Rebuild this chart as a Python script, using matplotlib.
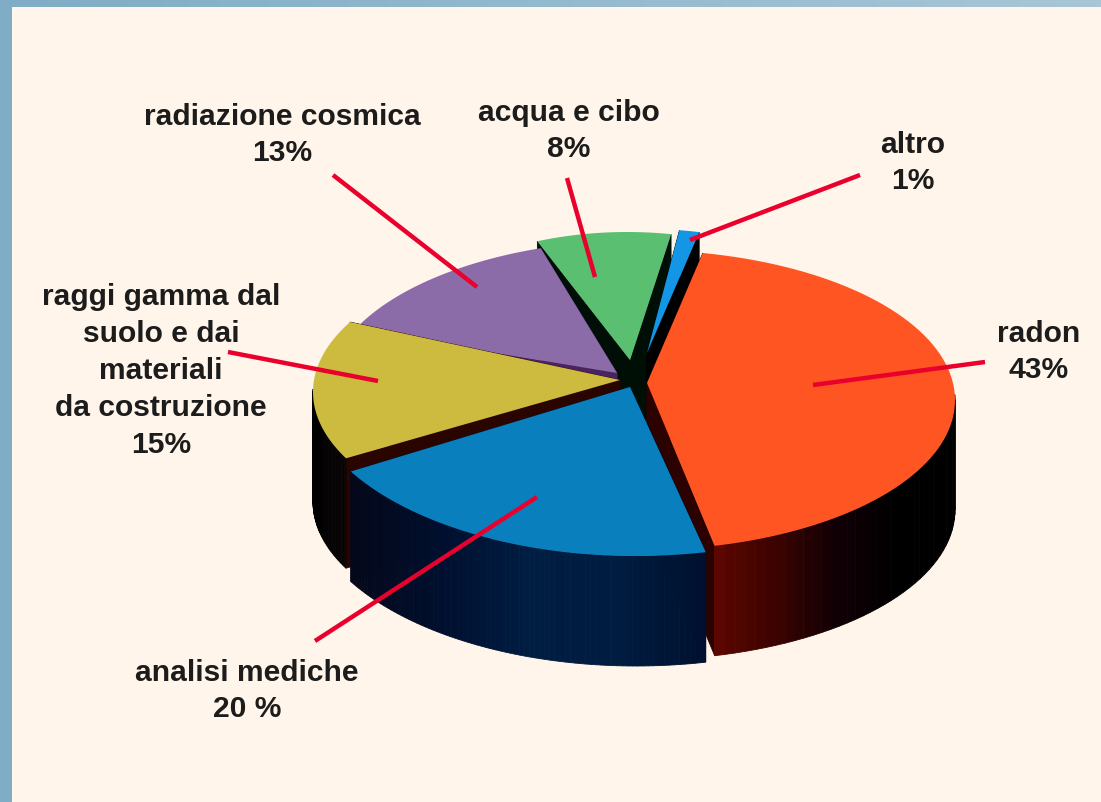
import numpy as np
import matplotlib.pyplot as plt
from matplotlib.colors import LinearSegmentedColormap

plt.rcParams['font.family'] = ['Liberation Sans', 'DejaVu Sans']

# clockwise from the top right
names = ["radon", "analisi mediche", "raggi gamma", "radiazione cosmica", "acqua e cibo", "altro"]
shares = [43, 20, 15, 13, 8, 1]
labels = ["radon\n43%", "analisi mediche\n20 %", "raggi gamma dal\nsuolo e dai\nmateriali\nda costruzione\n15%",
          "radiazione cosmica\n13%", "acqua e cibo\n8%", "altro\n1%"]
label_pos = [(1039, 352), (247, 691), (161, 371), (282, 135), (569, 131), (913, 163)]
lead_lines = [((985, 362), (813, 385)), ((315, 641), (537, 497)), ((228, 352), (378, 381)),
              ((333, 175), (477, 287)), ((567, 178), (595, 277)), ((860, 175), (690, 240))]

top_colors = ["#ff5522", "#0a7fbd", "#cdbb3f", "#8c6ca8", "#5bbf72", "#1496e6"]
side_colors = [["#5c0600", "#3a0300", "#100005", "#000000", "#000000"],
               ["#05081a", "#000f2e", "#001d42", "#001c40", "#00102e"],
               ["#000000", "#0a0508"], ["#000000", "#000000"], ["#000000", "#000000"], ["#000000", "#000000"]]
cut_colors = ["#2c0200", "#00102e", "#2a0500", "#4a2460", "#000f06", "#000000"]

# apex of each slice, and the ellipse its rim follows (the perspective is not a clean ellipse)
apex = [(647, 383), (630, 387), (620, 380), (617, 373), (630, 360), (647, 353)]
rim_cx = [640, 636, 634, 643, 627, 627]
rim_cy = [400, 386, 392, 392, 395, 388]
rim_a = [315, 330, 321, 316, 270, 321]
rim_b = [150, 170, 150, 152, 163, 160]
rot = [1.5, 0, -4, -0.5, 0, 0]
draw_order = [4, 5, 3, 2, 0, 1]

depth = 110
start = 77.0


def rim(t, k):
    t = np.radians(t)
    return rim_cx[k] + rim_a[k] * np.cos(t), rim_cy[k] - rim_b[k] * np.sin(t)


fig = plt.figure(figsize=(11.01, 8.02), dpi=100)
ax = fig.add_axes([0, 0, 1, 1])
ax.axis("off")

# frame and panel
frame = LinearSegmentedColormap.from_list("frame", ["#7fadc5", "#a8c6d6"])
ax.imshow(np.linspace(0, 1, 256)[None, :], cmap=frame, extent=(0, 1101, 802, 0), aspect="auto", zorder=0)
ax.set_xlim(0, 1101)
ax.set_ylim(802, 0)
ax.fill([12, 1101, 1101, 12], [7, 7, 802, 802], color="#fff5eb", lw=0, zorder=1)

# slice angles from the shares
ends = start - np.cumsum(shares) * 3.6
starts = np.r_[start, ends[:-1]]

z = 2
for k in draw_order:
    t0, t1 = starts[k] + rot[k], ends[k] + rot[k]
    ts = np.linspace(t0, t1, 80)
    xs, ys = rim(ts, k)
    px, py = apex[k]

    # cut faces
    for i in (0, -1):
        ax.fill([px, xs[i], xs[i], px], [py, ys[i], ys[i] + depth, py + depth],
                color=cut_colors[k], lw=0.5, zorder=z)
    z += 1

    # outer wall in strips, only the part facing us
    cmap = LinearSegmentedColormap.from_list("wall", side_colors[k])
    for i in range(len(ts) - 1):
        if np.sin(np.radians((ts[i] + ts[i + 1]) / 2)) > 0.02:
            continue
        f = (xs[i] + xs[i + 1]) / 2
        c = cmap(np.clip((f - xs.min()) / max(xs.max() - xs.min(), 1), 0, 1))
        if k == 0:
            c = cmap(np.clip((f - 718) / 235, 0, 1))
        ax.fill([xs[i], xs[i + 1], xs[i + 1], xs[i]],
                [ys[i], ys[i + 1], ys[i + 1] + depth, ys[i] + depth],
                color=c, lw=0.6, zorder=z)
    z += 1

    # top
    ax.fill(np.r_[px, xs], np.r_[py, ys], color=top_colors[k], lw=0, zorder=z)
    z += 1

for (p0, p1) in lead_lines:
    ax.plot([p0[0], p1[0]], [p0[1], p1[1]], color="#e9002c", lw=3.2, solid_capstyle="butt", zorder=50)

for text, pos in zip(labels, label_pos):
    ax.text(pos[0], pos[1], text, ha="center", va="center", fontsize=21.6, fontweight="bold",
            color="#1c1c1c", linespacing=1.4, zorder=60)

fig.savefig("out.png", dpi=100)
